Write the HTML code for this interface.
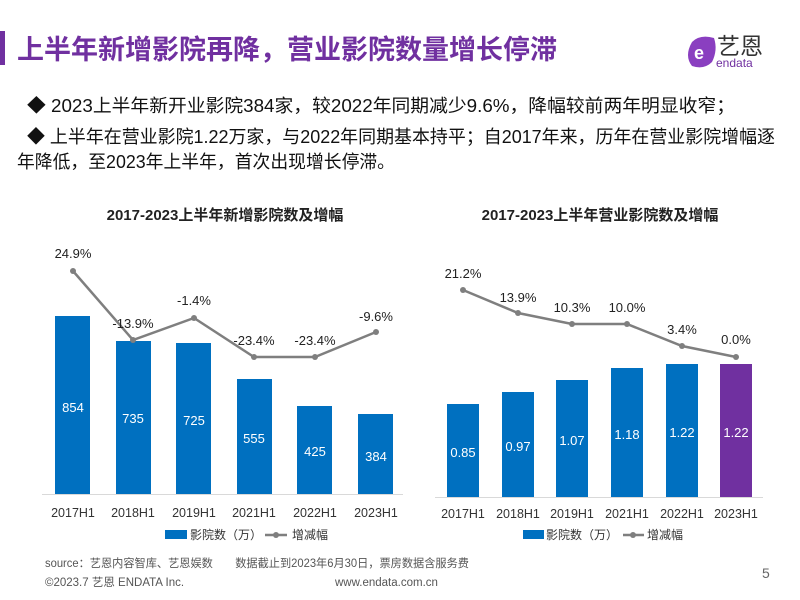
<!DOCTYPE html>
<html><head><meta charset="utf-8"><style>
html,body{margin:0;padding:0;background:#fff;}
svg{display:block;}
text{font-family:"Liberation Sans","Noto Sans CJK SC",sans-serif;}
</style></head><body>
<svg width="800" height="600" viewBox="0 0 800 600" xmlns="http://www.w3.org/2000/svg">
<rect width="800" height="600" fill="#fff"/>
<rect x="0" y="31" width="5" height="34" fill="#7030a0"/>
<text x="17" y="59" font-size="27" font-weight="bold" fill="#7030a0">上半年新增影院再降，营业影院数量增长停滞</text>
<!-- logo -->
<path d="M692 42 Q700 34 714 38 Q718 50 712 62 Q704 70 692 66 Q684 56 692 42Z" fill="#8a3fc0"/>
<text x="694" y="59" font-size="18" font-weight="bold" fill="#fff">e</text>
<text x="717" y="54" font-size="23" fill="#333">艺恩</text>
<text x="716" y="67" font-size="12" fill="#7030a0">endata</text>
<!-- bullets -->
<g font-size="18" fill="#111">
<text x="27" y="112" textLength="708" lengthAdjust="spacingAndGlyphs">◆ 2023上半年新开业影院384家，较2022年同期减少9.6%，降幅较前两年明显收窄；</text>
<text x="27" y="143" textLength="748" lengthAdjust="spacingAndGlyphs">◆ 上半年在营业影院1.22万家，与2022年同期基本持平；自2017年来，历年在营业影院增幅逐</text>
<text x="17" y="168" textLength="378" lengthAdjust="spacingAndGlyphs">年降低，至2023年上半年，首次出现增长停滞。</text>
</g>
<!-- left chart -->
<text x="225" y="220" font-size="15" font-weight="bold" fill="#222" text-anchor="middle">2017-2023上半年新增影院数及增幅</text>
<line x1="42" y1="494.5" x2="403" y2="494.5" stroke="#d9d9d9"/>
<g fill="#0070c0">
<rect x="55" y="316" width="35" height="178"/>
<rect x="116" y="341" width="35" height="153"/>
<rect x="176" y="343" width="35" height="151"/>
<rect x="237" y="379" width="35" height="115"/>
<rect x="297" y="406" width="35" height="88"/>
<rect x="358" y="414" width="35" height="80"/>
</g>
<g font-size="13" fill="#fff" text-anchor="middle">
<text x="73" y="412">854</text><text x="133" y="423">735</text><text x="194" y="425">725</text>
<text x="254" y="443">555</text><text x="315" y="456">425</text><text x="376" y="461">384</text>
</g>
<polyline points="73,271 133,340 194,318 254,357 315,357 376,332" fill="none" stroke="#7f7f7f" stroke-width="2.5"/>
<g fill="#7f7f7f"><circle cx="73" cy="271" r="3"/><circle cx="133" cy="340" r="3"/><circle cx="194" cy="318" r="3"/><circle cx="254" cy="357" r="3"/><circle cx="315" cy="357" r="3"/><circle cx="376" cy="332" r="3"/></g>
<g font-size="13" fill="#222" text-anchor="middle">
<text x="73" y="258">24.9%</text><text x="133" y="328">-13.9%</text><text x="194" y="305">-1.4%</text>
<text x="254" y="345">-23.4%</text><text x="315" y="345">-23.4%</text><text x="376" y="321">-9.6%</text>
</g>
<g font-size="12.5" fill="#333" text-anchor="middle">
<text x="73" y="517">2017H1</text><text x="133" y="517">2018H1</text><text x="194" y="517">2019H1</text>
<text x="254" y="517">2021H1</text><text x="315" y="517">2022H1</text><text x="376" y="517">2023H1</text>
</g>
<rect x="165" y="530" width="22" height="9" fill="#0070c0"/>
<text x="190" y="539" font-size="12" fill="#333">影院数（万）</text>
<line x1="265" y1="535" x2="287" y2="535" stroke="#7f7f7f" stroke-width="2.5"/><circle cx="276" cy="535" r="3" fill="#7f7f7f"/>
<text x="292" y="539" font-size="12" fill="#333">增减幅</text>
<!-- right chart -->
<text x="600" y="220" font-size="15" font-weight="bold" fill="#222" text-anchor="middle">2017-2023上半年营业影院数及增幅</text>
<line x1="435" y1="497.5" x2="763" y2="497.5" stroke="#d9d9d9"/>
<g fill="#0070c0">
<rect x="447" y="404" width="32" height="93"/>
<rect x="502" y="392" width="32" height="105"/>
<rect x="556" y="380" width="32" height="117"/>
<rect x="611" y="368" width="32" height="129"/>
<rect x="666" y="364" width="32" height="133"/>
</g>
<rect x="720" y="364" width="32" height="133" fill="#7030a0"/>
<g font-size="13" fill="#fff" text-anchor="middle">
<text x="463" y="457">0.85</text><text x="518" y="451">0.97</text><text x="572" y="445">1.07</text>
<text x="627" y="439">1.18</text><text x="682" y="437">1.22</text><text x="736" y="437">1.22</text>
</g>
<polyline points="463,290 518,313 572,324 627,324 682,346 736,357" fill="none" stroke="#7f7f7f" stroke-width="2.5"/>
<g fill="#7f7f7f"><circle cx="463" cy="290" r="3"/><circle cx="518" cy="313" r="3"/><circle cx="572" cy="324" r="3"/><circle cx="627" cy="324" r="3"/><circle cx="682" cy="346" r="3"/><circle cx="736" cy="357" r="3"/></g>
<g font-size="13" fill="#222" text-anchor="middle">
<text x="463" y="278">21.2%</text><text x="518" y="302">13.9%</text><text x="572" y="312">10.3%</text>
<text x="627" y="312">10.0%</text><text x="682" y="334">3.4%</text><text x="736" y="344">0.0%</text>
</g>
<g font-size="12.5" fill="#333" text-anchor="middle">
<text x="463" y="518">2017H1</text><text x="518" y="518">2018H1</text><text x="572" y="518">2019H1</text>
<text x="627" y="518">2021H1</text><text x="682" y="518">2022H1</text><text x="736" y="518">2023H1</text>
</g>
<rect x="523" y="530" width="21" height="9" fill="#0070c0"/>
<text x="546" y="539" font-size="12" fill="#333">影院数（万）</text>
<line x1="623" y1="535" x2="644" y2="535" stroke="#7f7f7f" stroke-width="2.5"/><circle cx="633" cy="535" r="3" fill="#7f7f7f"/>
<text x="647" y="539" font-size="12" fill="#333">增减幅</text>
<!-- footer -->
<text x="45" y="567" font-size="11.5" fill="#555" textLength="424" lengthAdjust="spacingAndGlyphs">source：艺恩内容智库、艺恩娱数　　数据截止到2023年6月30日，票房数据含服务费</text>
<text x="45" y="586" font-size="11.5" fill="#555">©2023.7 艺恩 ENDATA Inc.</text>
<text x="335" y="586" font-size="11.5" fill="#555">www.endata.com.cn</text>
<text x="762" y="578" font-size="14" fill="#666">5</text>
</svg>
</body></html>
